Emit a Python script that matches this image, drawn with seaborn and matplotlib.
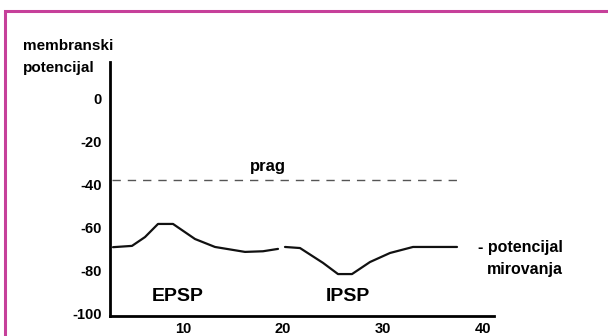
import matplotlib
matplotlib.use("Agg")
import matplotlib.pyplot as plt
import seaborn as sns
import pandas as pd
from matplotlib.patches import Rectangle

# --- data ---
epsp_t = [3.0, 4.9, 6.2, 7.5, 9.0, 11.2, 13.2, 16.2, 18.0, 19.5]
epsp_v = [-69.3, -68.7, -64.6, -58.5, -58.5, -65.5, -69.2, -71.5, -71.2, -70.1]
ipsp_t = [20.2, 21.7, 24.0, 25.5, 26.9, 28.7, 30.7, 33.0, 37.4]
ipsp_v = [-69.2, -69.7, -76.6, -81.8, -81.8, -76.2, -72.0, -69.2, -69.2]
prag = -38
prag_span = [2.9, 37.4]
y_ticks = [0, -20, -40, -60, -80, -100]
y_labels = ["0", "-20", "-40", "-60", "-80", "-100"]
x_ticks = [10, 20, 30, 40]
x_labels = ["10", "20", "30", "40"]

sns.set_style("white")
plt.rcParams["font.family"] = ["Liberation Sans", "DejaVu Sans"]
plt.rcParams["font.weight"] = "bold"
plt.rcParams["text.color"] = "black"
plt.rcParams["xtick.color"] = "black"
plt.rcParams["ytick.color"] = "black"

fig = plt.figure(figsize=(6.08, 3.36), dpi=100)
ax = fig.add_axes([110 / 608, 1 - 316 / 336, 384 / 608, 254 / 336])

df1 = pd.DataFrame({"t": epsp_t, "v": epsp_v})
df2 = pd.DataFrame({"t": ipsp_t, "v": ipsp_v})
sns.lineplot(data=df1, x="t", y="v", ax=ax, color="#111111", linewidth=1.6, estimator=None)
sns.lineplot(data=df2, x="t", y="v", ax=ax, color="#111111", linewidth=1.6, estimator=None)
ax.plot(prag_span, [prag, prag], color="#555555", linewidth=1.0, dashes=(6, 5))

ax.set_xlim(2.7, 41.1)
ax.set_ylim(-101.3, 16.8)
ax.set_yticks(y_ticks)
ax.set_yticklabels(y_labels)
ax.set_xticks(x_ticks)
ax.set_xticklabels(x_labels)
ax.tick_params(axis="y", length=0, pad=6, labelsize=10.5)
ax.tick_params(axis="x", length=0, pad=4, labelsize=10.5)
ax.set_xlabel("")
ax.set_ylabel("")
for s in ["top", "right"]:
    ax.spines[s].set_visible(False)
for s in ["left", "bottom"]:
    ax.spines[s].set_color("black")
    ax.spines[s].set_linewidth(2)

ax.text(18.5, -32, "prag", ha="center", va="center", fontsize=12, fontweight="bold")
ax.text(9.5, -92.4, "EPSP", ha="center", va="center", fontsize=14, fontweight="bold")
ax.text(26.5, -92.4, "IPSP", ha="center", va="center", fontsize=14, fontweight="bold")
ax.text(39.5, -69.5, "- potencijal", ha="left", va="center", fontsize=11.5, fontweight="bold")
ax.text(40.4, -79.5, "mirovanja", ha="left", va="center", fontsize=11.5, fontweight="bold")

fig.text(23 / 608, 1 - 46 / 336, "membranski", ha="left", va="center", fontsize=11, fontweight="bold")
fig.text(23 / 608, 1 - 68 / 336, "potencijal", ha="left", va="center", fontsize=11, fontweight="bold")

# magenta frame (only top and left edges fall inside the picture)
fig.patches.append(Rectangle((5 / 608, -0.2), 1.2, 1.2 - 11 / 336, transform=fig.transFigure,
                             fill=False, edgecolor="#c6409a", linewidth=2.2))

fig.savefig("out.png", dpi=100)
